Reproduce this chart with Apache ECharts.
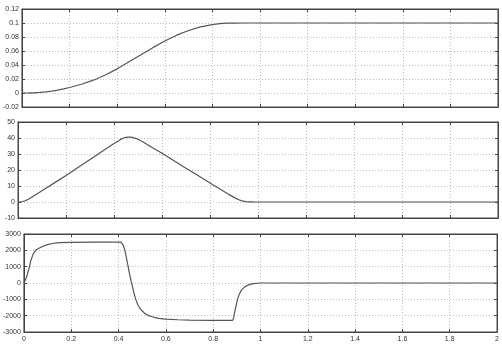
<!DOCTYPE html>
<html><head><meta charset="utf-8">
<script src="https://cdn.jsdelivr.net/npm/echarts@6/dist/echarts.min.js"></script>
<style>html,body{margin:0;padding:0;background:#fff}#c{width:502px;height:346px}</style>
</head><body><div id="c"></div>
<script>
// time ticks
const xTicks = [0, 0.2, 0.4, 0.6, 0.8, 1, 1.2, 1.4, 1.6, 1.8, 2];
// position (top panel)
const posT = [0, 0.025, 0.05, 0.075, 0.1, 0.125, 0.15, 0.175, 0.2, 0.25, 0.3, 0.35, 0.4, 0.45, 0.5, 0.55, 0.6, 0.65, 0.7, 0.75, 0.8, 0.83, 0.86, 0.88, 0.9, 0.92, 1.0, 1.5, 2.0];
const posV = [0, 0.00005, 0.0003, 0.0008, 0.0017, 0.0028, 0.0042, 0.0058, 0.0078, 0.0125, 0.0183, 0.0257, 0.0345, 0.0445, 0.0545, 0.0648, 0.0743, 0.0826, 0.0893, 0.0945, 0.0978, 0.0990, 0.0997, 0.0999, 0.09995, 0.1, 0.1, 0.1, 0.1];
// velocity (middle panel)
const velT = [0, 0.01, 0.02, 0.03, 0.04, 0.05, 0.06, 0.08, 0.1, 0.15, 0.2, 0.25, 0.3, 0.35, 0.4, 0.42, 0.43, 0.44, 0.45, 0.46, 0.47, 0.48, 0.49, 0.5, 0.52, 0.55, 0.6, 0.65, 0.7, 0.75, 0.8, 0.85, 0.88, 0.9, 0.91, 0.92, 0.93, 0.94, 0.95, 0.96, 0.98, 1.0, 1.5, 2.0];
const velV = [0, 0.05, 0.3, 0.8, 1.5, 2.3, 3.3, 5.1, 7, 11.8, 16.6, 21.6, 26.6, 31.6, 36.5, 38.3, 39.3, 40, 40.4, 40.6, 40.5, 40.2, 39.8, 39.2, 37.6, 34.9, 30.4, 25.8, 21.1, 16.5, 11.9, 7.3, 4.6, 2.9, 2.1, 1.4, 0.9, 0.5, 0.25, 0.12, 0.03, 0, 0, 0];
// acceleration (bottom panel)
const accT = [0, 0.01, 0.02, 0.03, 0.04, 0.05, 0.06, 0.08, 0.1, 0.12, 0.15, 0.2, 0.3, 0.41, 0.415, 0.42, 0.425, 0.431, 0.438, 0.445, 0.456, 0.464, 0.472, 0.482, 0.493, 0.51, 0.528, 0.55, 0.57, 0.6, 0.65, 0.7, 0.8, 0.882, 0.886, 0.89, 0.896, 0.902, 0.91, 0.92, 0.935, 0.95, 0.97, 1.0, 1.5, 2.0];
const accV = [0, 300, 800, 1400, 1800, 2000, 2100, 2250, 2350, 2420, 2470, 2490, 2500, 2500, 2450, 2300, 2100, 1700, 1200, 670, -50, -550, -970, -1350, -1600, -1850, -2000, -2100, -2170, -2210, -2250, -2270, -2290, -2290, -2150, -1850, -1450, -1050, -700, -420, -220, -110, -40, 0, 0, 0];

const pos = posT.map((t, i) => [t, posV[i]]);
const vel = velT.map((t, i) => [t, velV[i]]);
const acc = accT.map((t, i) => [t, accV[i]]);

const FONT = 'Liberation Sans, Arial, sans-serif';
const AX = '#444';
const GRIDC = '#bbb';
const grids = [
  {left: 18, right: 4, top: 9, height: 98},
  {left: 18, right: 4, top: 122, height: 96},
  {left: 18, right: 4, top: 234, height: 98}
].map(g => Object.assign({show: true, borderColor: AX, borderWidth: 1, backgroundColor: '#fff'}, g));

const yRanges = [
  {min: -0.02, max: 0.12, interval: 0.02},
  {min: -10, max: 50, interval: 10},
  {min: -3000, max: 3000, interval: 1000}
];

const fmt = v => String(Math.round(v * 1000) / 1000);
const xAxes = [], yAxes = [];
for (let i = 0; i < 3; i++) {
  xAxes.push({
    type: 'value', gridIndex: i, min: 0, max: 2, interval: 0.2, position: 'bottom',
    axisLine: {show: true, onZero: false, lineStyle: {color: AX, width: 1}},
    axisTick: {show: true, inside: true, length: 3, lineStyle: {color: AX}},
    axisLabel: {show: i === 2, fontSize: 7, color: '#333', fontFamily: FONT, margin: 4, formatter: fmt},
    splitLine: {show: true, lineStyle: {color: GRIDC, type: [1, 2], width: 1}}
  });
  xAxes.push({
    type: 'value', gridIndex: i, min: 0, max: 2, interval: 0.2, position: 'top',
    axisLine: {show: true, onZero: false, lineStyle: {color: AX, width: 1}},
    axisTick: {show: true, inside: true, length: 3, lineStyle: {color: AX}},
    axisLabel: {show: false}, splitLine: {show: false}
  });
  yAxes.push(Object.assign({
    type: 'value', gridIndex: i, position: 'left',
    axisLine: {show: true, onZero: false, lineStyle: {color: AX, width: 1}},
    axisTick: {show: true, inside: true, length: 3, lineStyle: {color: AX}},
    axisLabel: {show: true, fontSize: 7, color: '#333', fontFamily: FONT, margin: 3, formatter: fmt},
    splitLine: {show: true, lineStyle: {color: GRIDC, type: [1, 2], width: 1}}
  }, yRanges[i]));
  yAxes.push(Object.assign({
    type: 'value', gridIndex: i, position: 'right',
    axisLine: {show: true, onZero: false, lineStyle: {color: AX, width: 1}},
    axisTick: {show: true, inside: true, length: 3, lineStyle: {color: AX}},
    axisLabel: {show: false}, splitLine: {show: false}
  }, yRanges[i]));
}

const mk = (data, i) => ({
  type: 'line', data, xAxisIndex: i * 2, yAxisIndex: i * 2, showSymbol: false, symbol: 'none',
  smooth: false,
  lineStyle: {color: '#555', width: 1.2}, animation: false
});

const chart = echarts.init(document.getElementById('c'), null, {renderer: 'canvas'});
chart.setOption({
  backgroundColor: '#fff',
  animation: false,
  grid: grids,
  xAxis: xAxes,
  yAxis: yAxes,
  series: [mk(pos, 0), mk(vel, 1), mk(acc, 2)]
});
</script></body></html>
